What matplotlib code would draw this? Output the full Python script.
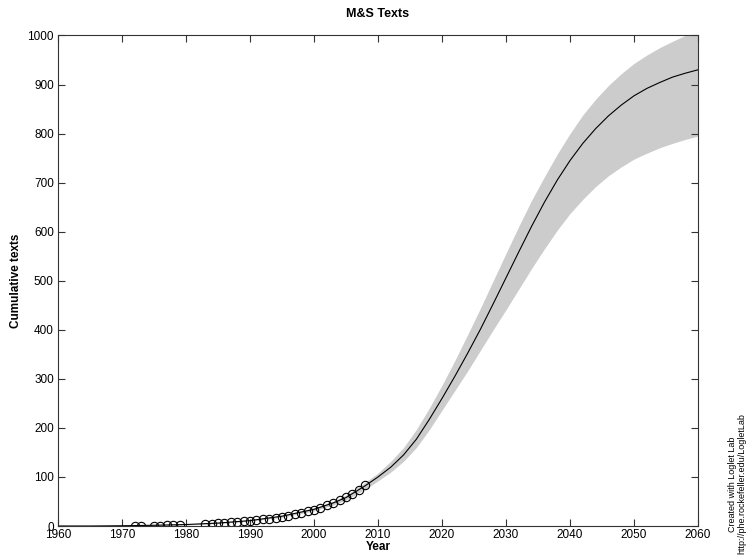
import matplotlib
matplotlib.use("Agg")
import matplotlib.pyplot as plt

plt.rcParams['font.family'] = ['Liberation Sans', 'DejaVu Sans']

# observed cumulative texts
obs_years = [1972, 1973, 1975, 1976, 1977, 1978, 1979,
             1983, 1984, 1985, 1986, 1987, 1988, 1989, 1990, 1991, 1992,
             1993, 1994, 1995, 1996, 1997, 1998, 1999, 2000, 2001, 2002,
             2003, 2004, 2005, 2006, 2007, 2008]
obs_vals = [0, 0, 1, 1, 2, 2, 2,
            4, 5, 6, 7, 8, 9, 10, 11, 12, 14,
            15, 17, 19, 21, 24, 27, 30, 33, 37, 42,
            47, 53, 59, 66, 74, 84]

# fitted logistic and its band
fit_years = [1960, 1965, 1970, 1975, 1980, 1985, 1990, 1995, 2000, 2003,
             2005, 2008, 2010, 2012, 2014, 2016, 2018, 2020, 2022, 2024,
             2026, 2028, 2030, 2032, 2034, 2036, 2038, 2040, 2042, 2044,
             2046, 2048, 2050, 2052, 2054, 2056, 2058, 2060]
fit_mid = [0, 0, 0.5, 1.5, 3, 6, 11, 20, 34, 47,
           58, 82, 100, 120, 145, 177, 217, 260, 305, 352,
           401, 453, 506, 559, 611, 660, 705, 745, 780, 810,
           836, 858, 877, 892, 904, 915, 923, 930]
fit_hi = [0, 0, 1, 2, 4, 7, 12, 22, 37, 51,
          63, 89, 108, 132, 160, 197, 240, 287, 337, 390,
          444, 500, 556, 611, 664, 712, 758, 800, 838, 870,
          898, 922, 943, 960, 975, 988, 1000, 1010]
fit_lo = [0, 0, 0, 1, 2, 5, 10, 18, 31, 43,
          53, 75, 92, 110, 132, 160, 196, 236, 276, 316,
          358, 400, 441, 483, 525, 565, 603, 637, 666, 692,
          714, 732, 748, 760, 771, 780, 788, 795]

fig = plt.figure(figsize=(7.46, 5.6), dpi=100)
ax = fig.add_axes([0.0777, 0.0607, 0.858, 0.876])

ax.fill_between(fit_years, fit_lo, fit_hi, color='#cccccc', linewidth=0)
ax.plot(fit_years, fit_mid, color='black', linewidth=0.8)
ax.plot(obs_years, obs_vals, 'o', markerfacecolor='none', markeredgecolor='black',
        markersize=6, markeredgewidth=0.8)

ax.set_xlim(1960, 2060)
ax.set_ylim(0, 1000)
ax.set_xticks(range(1960, 2061, 10))
ax.set_yticks(range(0, 1001, 100))
ax.tick_params(direction='in', top=True, right=True, length=5, width=0.8,
               labelsize=8.5, colors='#333333', labelcolor='black', pad=3)
ax.tick_params(axis='x', pad=2)
for sp in ax.spines.values():
    sp.set_color('#333333')
    sp.set_linewidth(0.8)

ax.set_title('M&S Texts', fontsize=9, fontweight='bold', pad=13)
ax.set_xlabel('Year', fontsize=8.5, fontweight='bold', labelpad=0)
ax.set_ylabel('Cumulative texts', fontsize=8.5, fontweight='bold', labelpad=4)

fig.text(0.988, 0.01, 'Created with Loglet Lab\nhttp://phe.rockefeller.edu/LogletLab',
         rotation=90, fontsize=6.5, ha='center', va='bottom', linespacing=1.1)

fig.savefig('out.png', dpi=100)
